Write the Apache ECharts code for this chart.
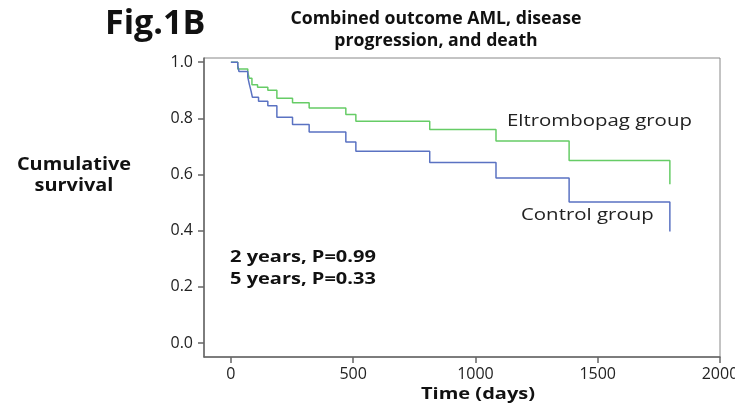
<!DOCTYPE html>
<html>
<head>
<meta charset="utf-8">
<script src="https://cdn.jsdelivr.net/npm/echarts@6/dist/echarts.min.js"></script>
<style>
html,body{margin:0;padding:0;background:#fff;}
#c{width:735px;height:404px;}
</style>
</head>
<body>
<div id="c"></div>
<script>
// Kaplan-Meier step data (time in days, cumulative survival)
const eltrombopagTimes = [0, 28, 69, 75, 86, 109, 151, 188, 252, 320, 470, 511, 813, 1084, 1383, 1795];
const eltrombopagSurv  = [1.0, 0.976, 0.964, 0.943, 0.92, 0.911, 0.90, 0.872, 0.856, 0.837, 0.814, 0.790, 0.760, 0.719, 0.650, 0.565];
const controlTimes = [0, 28, 33, 69, 75, 82, 88, 113, 151, 188, 252, 320, 470, 511, 813, 1084, 1383, 1795];
const controlSurv  = [1.0, 0.988, 0.967, 0.947, 0.923, 0.899, 0.875, 0.861, 0.845, 0.804, 0.778, 0.751, 0.716, 0.683, 0.643, 0.588, 0.502, 0.397];
const xTicks = [0, 500, 1000, 1500, 2000];
const yTicks = [0.0, 0.2, 0.4, 0.6, 0.8, 1.0];

const FONT = '"Open Sans", "Noto Sans", sans-serif';
const chart = echarts.init(document.getElementById('c'), null, {renderer: 'canvas'});

const zip = (t, s) => t.map((v, i) => [v, s[i]]);

chart.setOption({
  backgroundColor: '#ffffff',
  animation: false,
  grid: {left: 204, right: 15, top: 58, bottom: 47, show: true, borderColor: '#888', borderWidth: 1,
         containLabel: false, outerBoundsMode: 'none'},
  xAxis: {
    type: 'value', min: -110, max: 2000,
    axisLine: {show: true, onZero: false, lineStyle: {color: '#666', width: 1.5}},
    axisTick: {show: true, length: 6, customValues: xTicks, lineStyle: {color: '#666', width: 1.5}},
    axisLabel: {customValues: xTicks, margin: 9, fontFamily: FONT, fontSize: 16, color: '#222', formatter: v => String(v)},
    splitLine: {show: false}
  },
  yAxis: {
    type: 'value', min: -0.05, max: 1.015,
    axisLine: {show: true, onZero: false, lineStyle: {color: '#666', width: 1.5}},
    axisTick: {show: true, length: 6, customValues: yTicks, lineStyle: {color: '#666', width: 1.5}},
    axisLabel: {customValues: yTicks, margin: 11, fontFamily: FONT, fontSize: 16, color: '#222', formatter: v => v.toFixed(1)},
    splitLine: {show: false}
  },
  series: [
    {name: 'Eltrombopag group', type: 'line', step: 'end', showSymbol: false, data: zip(eltrombopagTimes, eltrombopagSurv),
     lineStyle: {color: '#66cc66', width: 1.5}, itemStyle: {color: '#66cc66'}},
    {name: 'Control group', type: 'line', step: 'end', showSymbol: false, data: zip(controlTimes, controlSurv),
     lineStyle: {color: '#5a72c2', width: 1.5}, itemStyle: {color: '#5a72c2'}}
  ],
  graphic: [
    {type: 'text', x: 105, y: 7, style: {text: 'Fig.1B', font: 'bold 34px ' + FONT, fill: '#111'}},
    {type: 'text', x: 436, y: 8, scaleX: 1.04, style: {text: 'Combined outcome AML, disease\nprogression, and death', font: 'bold 17px ' + FONT, fill: '#111', align: 'center', lineHeight: 22}},
    {type: 'text', x: 74, y: 155, scaleX: 1.17, style: {text: 'Cumulative\nsurvival', font: 'bold 17px ' + FONT, fill: '#111', align: 'center', lineHeight: 21}},
    {type: 'text', x: 478, y: 386, scaleX: 1.25, style: {text: 'Time (days)', font: 'bold 16px ' + FONT, fill: '#111', align: 'center'}},
    {type: 'text', x: 507, y: 113, scaleX: 1.2, style: {text: 'Eltrombopag group', font: '17px ' + FONT, fill: '#222'}},
    {type: 'text', x: 521, y: 207, scaleX: 1.2, style: {text: 'Control group', font: '17px ' + FONT, fill: '#222'}},
    {type: 'text', x: 230, y: 246, scaleX: 1.25, style: {text: '2 years, P=0.99\n5 years, P=0.33', font: 'bold 16px ' + FONT, fill: '#111', lineHeight: 22}}
  ]
});
</script>
</body>
</html>
